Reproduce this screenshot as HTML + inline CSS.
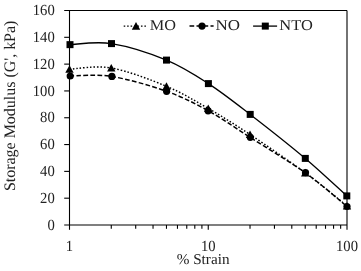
<!DOCTYPE html>
<html><head><meta charset="utf-8"><style>
html,body{margin:0;padding:0;background:#fff;}
svg{display:block;will-change:transform;}
text{font-family:"Liberation Serif",serif;text-rendering:geometricPrecision;fill:#222;}
</style></head><body>
<svg width="361" height="271" viewBox="0 0 361 271">
<g stroke="#000" stroke-width="1.1" fill="none">
<line x1="64.2" y1="10.5" x2="347.0" y2="10.5"/>
<line x1="69.5" y1="10.5" x2="69.5" y2="229.8"/>
<line x1="347.0" y1="10.5" x2="347.0" y2="229.8"/>
<line x1="64.2" y1="225.0" x2="347.0" y2="225.0"/>
<line x1="64.2" y1="198.19" x2="69.5" y2="198.19"/>
<line x1="64.2" y1="171.38" x2="69.5" y2="171.38"/>
<line x1="64.2" y1="144.56" x2="69.5" y2="144.56"/>
<line x1="64.2" y1="117.75" x2="69.5" y2="117.75"/>
<line x1="64.2" y1="90.94" x2="69.5" y2="90.94"/>
<line x1="64.2" y1="64.12" x2="69.5" y2="64.12"/>
<line x1="64.2" y1="37.31" x2="69.5" y2="37.31"/>
<line x1="208.25" y1="225.0" x2="208.25" y2="229.8"/>
<line x1="111.27" y1="225.0" x2="111.27" y2="228.8"/>
<line x1="135.70" y1="225.0" x2="135.70" y2="228.8"/>
<line x1="153.04" y1="225.0" x2="153.04" y2="228.8"/>
<line x1="166.48" y1="225.0" x2="166.48" y2="228.8"/>
<line x1="177.47" y1="225.0" x2="177.47" y2="228.8"/>
<line x1="186.76" y1="225.0" x2="186.76" y2="228.8"/>
<line x1="194.80" y1="225.0" x2="194.80" y2="228.8"/>
<line x1="201.90" y1="225.0" x2="201.90" y2="228.8"/>
<line x1="250.02" y1="225.0" x2="250.02" y2="228.8"/>
<line x1="274.45" y1="225.0" x2="274.45" y2="228.8"/>
<line x1="291.79" y1="225.0" x2="291.79" y2="228.8"/>
<line x1="305.23" y1="225.0" x2="305.23" y2="228.8"/>
<line x1="316.22" y1="225.0" x2="316.22" y2="228.8"/>
<line x1="325.51" y1="225.0" x2="325.51" y2="228.8"/>
<line x1="333.55" y1="225.0" x2="333.55" y2="228.8"/>
<line x1="340.65" y1="225.0" x2="340.65" y2="228.8"/>
</g>
<path d="M69.50,69.20 C76.46,69.00 95.10,65.15 111.27,68.00 C127.43,70.85 150.32,79.55 166.48,86.30 C182.65,93.05 194.33,100.47 208.25,108.50 C222.17,116.53 233.85,123.78 250.02,134.50 C266.18,145.22 289.07,160.90 305.23,172.80 C321.40,184.70 340.04,200.38 347.00,205.90" fill="none" stroke="#000" stroke-width="1.45" stroke-dasharray="1.55 1.9"/>
<path d="M69.50,65.20 L73.70,72.80 L65.30,72.80 Z" fill="#000"/>
<path d="M111.27,64.00 L115.47,71.60 L107.07,71.60 Z" fill="#000"/>
<path d="M166.48,82.30 L170.68,89.90 L162.28,89.90 Z" fill="#000"/>
<path d="M208.25,104.50 L212.45,112.10 L204.05,112.10 Z" fill="#000"/>
<path d="M250.02,130.50 L254.22,138.10 L245.82,138.10 Z" fill="#000"/>
<path d="M305.23,168.80 L309.43,176.40 L301.03,176.40 Z" fill="#000"/>
<path d="M347.00,201.90 L351.20,209.50 L342.80,209.50 Z" fill="#000"/>
<path d="M69.50,76.00 C76.46,76.07 95.10,73.85 111.27,76.40 C127.43,78.95 150.32,85.57 166.48,91.30 C182.65,97.03 194.33,103.13 208.25,110.80 C222.17,118.47 233.85,126.98 250.02,137.30 C266.18,147.62 289.07,161.17 305.23,172.70 C321.40,184.23 340.04,200.87 347.00,206.50" fill="none" stroke="#000" stroke-width="1.5" stroke-dasharray="4.7 2.3"/>
<circle cx="70.20" cy="76.00" r="3.6" fill="#000"/>
<circle cx="111.90" cy="76.40" r="3.6" fill="#000"/>
<circle cx="166.60" cy="91.30" r="3.6" fill="#000"/>
<circle cx="208.10" cy="110.80" r="3.6" fill="#000"/>
<circle cx="250.30" cy="137.30" r="3.6" fill="#000"/>
<circle cx="305.50" cy="172.70" r="3.6" fill="#000"/>
<circle cx="347.00" cy="206.50" r="3.6" fill="#000"/>
<path d="M70.00,44.65 C76.92,44.48 95.42,41.02 111.50,43.60 C127.58,46.18 150.35,53.43 166.50,60.10 C182.65,66.77 194.45,74.55 208.40,83.60 C222.35,92.65 234.05,101.93 250.20,114.40 C266.35,126.87 289.20,144.82 305.30,158.40 C321.40,171.98 339.88,189.65 346.80,195.90" fill="none" stroke="#000" stroke-width="1.3"/>
<rect x="66.50" y="41.15" width="7" height="7" fill="#000"/>
<rect x="108.00" y="40.10" width="7" height="7" fill="#000"/>
<rect x="163.00" y="56.60" width="7" height="7" fill="#000"/>
<rect x="204.90" y="80.10" width="7" height="7" fill="#000"/>
<rect x="246.70" y="110.90" width="7" height="7" fill="#000"/>
<rect x="301.80" y="154.90" width="7" height="7" fill="#000"/>
<rect x="343.30" y="192.40" width="7" height="7" fill="#000"/>
<line x1="123.7" y1="26.1" x2="147.0" y2="26.1" stroke="#000" stroke-width="1.45" stroke-dasharray="1.55 1.9"/>
<path d="M136.00,22.10 L140.20,29.70 L131.80,29.70 Z" fill="#000"/>
<line x1="189.5" y1="26.1" x2="213.6" y2="26.1" stroke="#000" stroke-width="1.5" stroke-dasharray="4.7 2.3"/>
<circle cx="202.0" cy="26.1" r="3.6" fill="#000"/>
<line x1="253.1" y1="26.1" x2="277.1" y2="26.1" stroke="#000" stroke-width="1.3"/>
<rect x="261.8" y="22.6" width="7" height="7" fill="#000"/>
<text x="149.7" y="29.6" font-size="15" textLength="26.2" lengthAdjust="spacingAndGlyphs">MO</text>
<text x="215.5" y="29.6" font-size="15" textLength="24.5" lengthAdjust="spacingAndGlyphs">NO</text>
<text x="279.3" y="29.6" font-size="15" textLength="33.5" lengthAdjust="spacingAndGlyphs">NTO</text>
<text transform="translate(54.7,229.60) scale(0.95,1)" text-anchor="end" font-size="15.4">0</text>
<text transform="translate(54.7,202.79) scale(0.95,1)" text-anchor="end" font-size="15.4">20</text>
<text transform="translate(54.7,175.97) scale(0.95,1)" text-anchor="end" font-size="15.4">40</text>
<text transform="translate(54.7,149.16) scale(0.95,1)" text-anchor="end" font-size="15.4">60</text>
<text transform="translate(54.7,122.35) scale(0.95,1)" text-anchor="end" font-size="15.4">80</text>
<text transform="translate(54.7,95.54) scale(0.95,1)" text-anchor="end" font-size="15.4">100</text>
<text transform="translate(54.7,68.72) scale(0.95,1)" text-anchor="end" font-size="15.4">120</text>
<text transform="translate(54.7,41.91) scale(0.95,1)" text-anchor="end" font-size="15.4">140</text>
<text transform="translate(54.7,15.10) scale(0.95,1)" text-anchor="end" font-size="15.4">160</text>
<text transform="translate(69.50,250.8) scale(0.95,1)" text-anchor="middle" font-size="15.4">1</text>
<text transform="translate(208.25,250.8) scale(0.95,1)" text-anchor="middle" font-size="15.4">10</text>
<text transform="translate(347.00,250.8) scale(0.95,1)" text-anchor="middle" font-size="15.4">100</text>
<text x="176.7" y="264.0" font-size="15" textLength="52.8" lengthAdjust="spacingAndGlyphs">% Strain</text>
<text transform="translate(15.0,191.1) rotate(-90)" font-size="16" textLength="170.5" lengthAdjust="spacingAndGlyphs">Storage Modulus (G', kPa)</text>
</svg>
</body></html>
